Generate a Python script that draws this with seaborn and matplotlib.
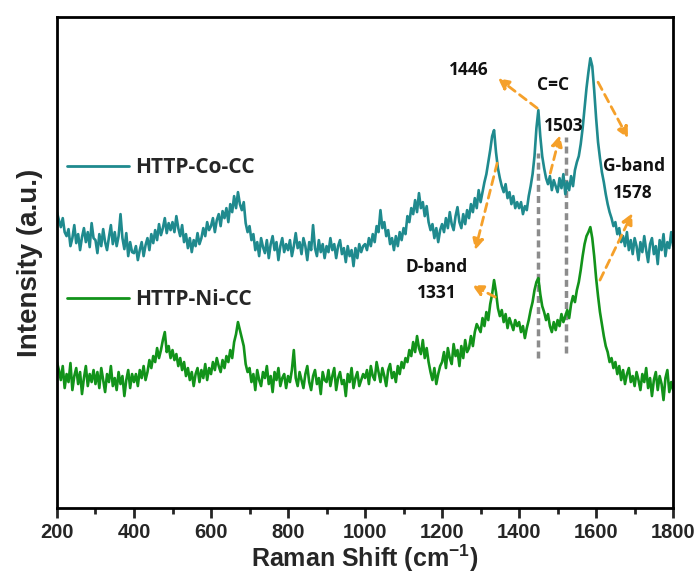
import numpy as np
import pandas as pd
import matplotlib
matplotlib.use("Agg")
import matplotlib.pyplot as plt
import seaborn as sns

# ---------------- data ----------------
wavenumber_start = 200
wavenumber_step = 5
wavenumber_end = 1800

co_intensity = [
    296, 288, 281, 290, 276, 272, 279, 262, 270, 283, 265, 274, 258, 271, 280, 266, 276, 261, 285, 270,
    268, 255, 274, 262, 279, 266, 258, 271, 283, 264, 276, 262, 272, 294, 270, 259, 275, 252, 266, 256,
    255, 262, 248, 258, 266, 252, 263, 270, 258, 274, 265, 278, 268, 284, 273, 280, 290, 275, 285, 278,
    286, 276, 292, 280, 272, 283, 266, 274, 260, 270, 256, 268, 262, 275, 264, 270, 280, 272, 286, 278,
    282, 290, 276, 288, 294, 282, 297, 290, 300, 286, 304, 296, 312, 300, 316, 304, 298, 306, 285, 276,
    282, 268, 274, 258, 266, 252, 270, 261, 255, 268, 250, 264, 272, 258, 266, 248, 262, 270, 256, 264,
    258, 268, 252, 262, 275, 260, 266, 254, 270, 262, 248, 266, 258, 283, 260, 252, 268, 256, 264, 250,
    262, 256, 270, 258, 264, 250, 262, 268, 254, 260, 246, 262, 252, 258, 242, 260, 250, 264, 256, 262,
    264, 258, 270, 262, 274, 266, 282, 276, 298, 280, 286, 272, 278, 264, 270, 258, 272, 262, 276, 268,
    280, 274, 292, 286, 300, 294, 308, 296, 315, 300, 306, 292, 302, 286, 278, 284, 270, 280, 266, 278,
    284, 276, 290, 280, 296, 284, 278, 292, 301, 286, 280, 294, 284, 298, 290, 304, 296, 310, 300, 318,
    306, 316, 326, 334, 346, 358, 372, 378, 356, 340, 330, 322, 316, 324, 310, 316, 304, 312, 300, 306,
    300, 306, 294, 302, 298, 312, 322, 334, 352, 380, 398, 372, 352, 340, 330, 324, 332, 318, 328, 322,
    316, 330, 320, 334, 314, 326, 318, 332, 322, 338, 346, 352, 364, 380, 400, 420, 436, 450, 442, 418,
    390, 366, 350, 336, 326, 314, 304, 296, 290, 282, 286, 274, 280, 266, 272, 262, 276, 258, 268, 254,
    270, 262, 248, 266, 256, 272, 258, 246, 264, 270, 254, 262, 244, 268, 258, 274, 252, 266, 260, 276,
    262,
]

ni_intensity = [
    146, 138, 128, 142, 120, 134, 126, 145, 118, 132, 140, 124, 136, 114, 130, 142, 122, 134, 126, 138,
    124, 136, 120, 140, 128, 116, 134, 126, 142, 122, 130, 118, 136, 124, 132, 112, 128, 138, 120, 134,
    126, 134, 122, 138, 130, 142, 128, 136, 148, 140, 152, 146, 160, 150, 158, 168, 176, 156, 162, 150,
    158, 148, 154, 142, 150, 138, 146, 132, 140, 128, 136, 122, 134, 140, 126, 138, 130, 144, 128, 140,
    134, 146, 138, 150, 142, 136, 148, 140, 152, 146, 158, 150, 166, 174, 186, 178, 170, 162, 144, 136,
    140, 126, 134, 118, 138, 128, 122, 136, 130, 142, 124, 132, 116, 136, 128, 140, 122, 130, 134, 120,
    132, 126, 138, 158, 130, 122, 136, 128, 120, 134, 142, 126, 118, 132, 138, 124, 130, 114, 136, 128,
    126, 138, 122, 132, 140, 118, 130, 136, 124, 128, 112, 134, 126, 140, 120, 130, 136, 122, 128, 134,
    130, 138, 124, 142, 132, 128, 146, 136, 126, 140, 132, 122, 138, 144, 130, 136, 126, 142, 134, 146,
    140, 150, 146, 158, 152, 166, 156, 172, 160, 154, 168, 150, 160, 146, 136, 128, 140, 124, 134, 142,
    146, 156, 140, 160, 150, 144, 164, 152, 158, 142, 162, 150, 168, 156, 160, 172, 162, 176, 184, 180,
    176, 190, 182, 196, 188, 204, 214, 228, 216, 200, 192, 198, 186, 194, 180, 190, 184, 178, 188, 182,
    186, 176, 182, 170, 180, 188, 198, 206, 218, 226, 230, 214, 202, 196, 188, 194, 182, 176, 186, 178,
    188, 182, 194, 186, 192, 198, 190, 204, 212, 206, 218, 226, 238, 252, 264, 272, 276, 281, 270, 252,
    230, 212, 196, 184, 172, 162, 156, 146, 150, 140, 146, 134, 142, 128, 138, 124, 134, 140, 126, 132,
    122, 136, 128, 118, 134, 126, 140, 120, 130, 112, 128, 136, 118, 132, 124, 108, 130, 138, 116, 126,
    118,
]

series_labels = ["HTTP-Co-CC", "HTTP-Ni-CC"]
series_colors = ["#1F8A8E", "#12931A"]
x_ticks = [200, 400, 600, 800, 1000, 1200, 1400, 1600, 1800]

# peak marker lines (wavenumber, bottom, top)
marker_lines = [(1449, 150, 355), (1522, 155, 371)]

# annotation texts (text, x, y)
peak_texts = [
    ("1446", 1268, 438),
    ("C=C", 1488, 423),
    ("1503", 1517, 382),
    ("G-band", 1699, 342),
    ("1578", 1696, 315),
    ("D-band", 1187, 241),
    ("1331", 1187, 215),
]
# arrows (tail_x, tail_y, head_x, head_y)
peak_arrows = [
    (1447, 400, 1345, 430),
    (1481, 335, 1506, 373),
    (1605, 426, 1683, 370),
    (1610, 228, 1694, 295),
    (1343, 345, 1286, 258),
    (1338, 211, 1278, 223),
]

# ---------------- plotting ----------------
wavenumber = np.arange(wavenumber_start, wavenumber_end + 1, wavenumber_step)
df = pd.concat([
    pd.DataFrame({"Raman Shift": wavenumber, "Intensity": co_intensity, "Sample": series_labels[0]}),
    pd.DataFrame({"Raman Shift": wavenumber, "Intensity": ni_intensity, "Sample": series_labels[1]}),
])

sns.set_style("ticks")
plt.rcParams["font.family"] = ["Liberation Sans", "DejaVu Sans"]
plt.rcParams["mathtext.fontset"] = "custom"
plt.rcParams["mathtext.bf"] = "Liberation Sans:bold"
plt.rcParams["mathtext.rm"] = "Liberation Sans:bold"

fig = plt.figure(figsize=(6.99, 5.74), dpi=100)
ax = fig.add_axes([0.0815, 0.115, 0.8815, 0.855])

sns.lineplot(data=df, x="Raman Shift", y="Intensity", hue="Sample",
             palette=series_colors, estimator=None, linewidth=1.9,
             legend=False, ax=ax)

ax.set_xlim(200, 1800)
ax.set_ylim(0, 491)
ax.set_xticks(x_ticks)
ax.set_xticks(np.arange(300, 1800, 200), minor=True)
ax.set_yticks([])
ax.tick_params(axis="x", which="major", direction="out", length=7, width=2, pad=4)
ax.tick_params(axis="x", which="minor", direction="out", length=4, width=2)
for lab in ax.get_xticklabels():
    lab.set_fontweight("bold")
    lab.set_fontsize(14.5)
for sp in ax.spines.values():
    sp.set_linewidth(2)
    sp.set_color("black")

ax.set_xlabel("Raman Shift (cm$^{-1}$)", fontsize=18, fontweight="bold", labelpad=0)
ax.set_ylabel("Intensity (a.u.)", fontsize=20, fontweight="bold", labelpad=10)

# legends
lines = ax.get_lines()
leg_kw = dict(loc="center left", frameon=False, borderpad=0, borderaxespad=0,
              handlelength=3.0, handletextpad=0.3,
              prop={"family": "Open Sans", "weight": "bold", "size": 15})
leg1 = ax.legend([lines[0]], [series_labels[0]], bbox_to_anchor=(0.016, 0.694), **leg_kw)
ax.add_artist(leg1)
leg2 = ax.legend([lines[1]], [series_labels[1]], bbox_to_anchor=(0.016, 0.424), **leg_kw)
for lg in (leg1, leg2):
    for h in lg.legend_handles:
        h.set_linewidth(2)

# peak marker lines
for xm, y0, y1 in marker_lines:
    ax.vlines(xm, y0, y1, colors="#8C8C8C", linestyles=(0, (2, 1.2)), linewidth=2.5, zorder=1)

# annotations
orange = "#F5A02A"
for t, xt, yt in peak_texts:
    ax.text(xt, yt, t, ha="center", va="center", fontsize=12.5, fontweight="bold",
            family="Open Sans", color="#111111")
for x0, y0, x1, y1 in peak_arrows:
    ax.annotate("", xy=(x1, y1), xytext=(x0, y0),
                arrowprops=dict(arrowstyle="-|>", linestyle=(0, (3, 2)), color=orange,
                                lw=2, mutation_scale=16, shrinkA=0, shrinkB=0))

fig.savefig("out.png", dpi=100)
